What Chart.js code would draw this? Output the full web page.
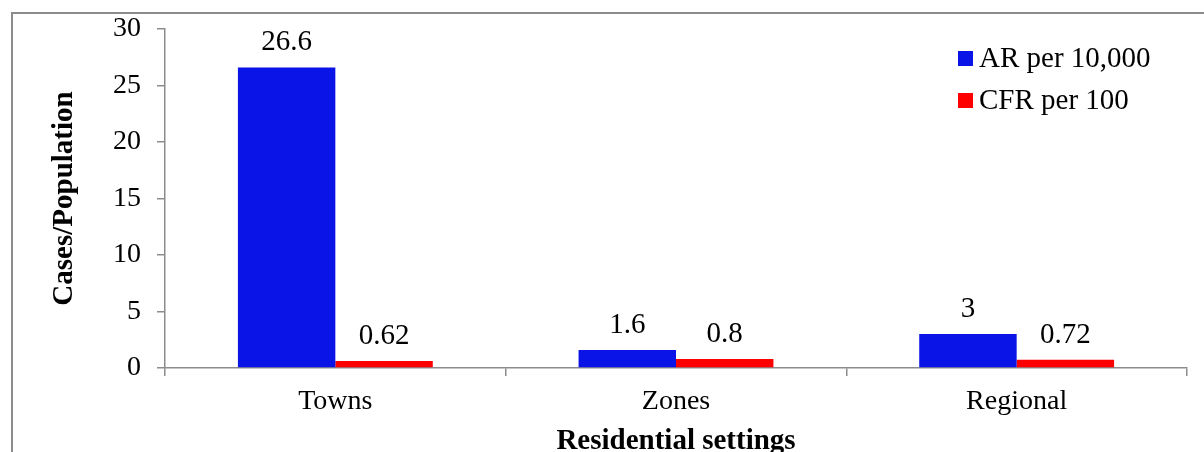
<!DOCTYPE html>
<html>
<head>
<meta charset="utf-8">
<title>Residential settings</title>
<script src="https://cdn.jsdelivr.net/npm/chart.js@4/dist/chart.umd.min.js"></script>
<style>
    html, body { margin: 0; padding: 0; background: #fff; overflow: hidden; }
    canvas { display: block; }
</style>
</head>
<body>
<canvas id="ratesChart" width="1204" height="452"></canvas>
<script>
// Data
const categories = ['Towns', 'Zones', 'Regional'];
const seriesNames = ['AR per 10,000', 'CFR per 100'];
const arValues = [26.6, 1.6, 3];
const cfrValues = [0.62, 0.8, 0.72];
const yMin = 0;
const yMax = 30;
const yStep = 5;

const serif = "'Times New Roman', 'Liberation Serif', serif";
const axisGrey = '#8c8c8c';

// Outer frame (cropped on the right and bottom like the original)
const framePlugin = {
    id: 'frame',
    beforeDraw(chart) {
        const ctx = chart.ctx;
        ctx.save();
        ctx.fillStyle = '#fff';
        ctx.fillRect(0, 0, chart.width, chart.height);
        ctx.strokeStyle = axisGrey;
        ctx.lineWidth = 2;
        ctx.strokeRect(12, 13, chart.width + 50, chart.height + 50);
        ctx.restore();
    }
};

// Value labels above each bar
const valueLabels = {
    id: 'valueLabels',
    afterDatasetsDraw(chart) {
        const ctx = chart.ctx;
        ctx.save();
        ctx.font = '29px ' + serif;
        ctx.fillStyle = '#000';
        ctx.textAlign = 'center';
        ctx.textBaseline = 'alphabetic';
        chart.data.datasets.forEach((ds, i) => {
            chart.getDatasetMeta(i).data.forEach((bar, j) => {
                ctx.fillText(String(ds.data[j]), bar.x, bar.y - 17);
            });
        });
        ctx.restore();
    }
};

// Legend stacked in the top right corner of the plot
const cornerLegend = {
    id: 'cornerLegend',
    afterDraw(chart) {
        const ctx = chart.ctx;
        const x = 958;
        let y = 58;
        ctx.save();
        ctx.font = '29px ' + serif;
        ctx.textBaseline = 'middle';
        ctx.textAlign = 'left';
        chart.data.datasets.forEach(ds => {
            ctx.fillStyle = ds.backgroundColor;
            ctx.fillRect(x, y - 7, 15, 15);
            ctx.fillStyle = '#000';
            ctx.fillText(ds.label, x + 21, y + 1);
            y += 42;
        });
        ctx.restore();
    }
};

new Chart(document.getElementById('ratesChart'), {
    type: 'bar',
    data: {
        labels: categories,
        datasets: [{
            label: seriesNames[0],
            data: arValues,
            backgroundColor: '#0a14e6',
            borderWidth: 0
        }, {
            label: seriesNames[1],
            data: cfrValues,
            backgroundColor: '#ff0000',
            borderWidth: 0
        }]
    },
    options: {
        responsive: false,
        animation: false,
        layout: {
            padding: { left: 14, right: 17, top: 29, bottom: 0 }
        },
        datasets: {
            bar: {
                categoryPercentage: 0.572,
                barPercentage: 1
            }
        },
        plugins: {
            legend: { display: false },
            tooltip: { enabled: false }
        },
        scales: {
            x: {
                afterFit(scale) { scale.height = 84; },
                border: { display: true, color: axisGrey, width: 1.5 },
                grid: {
                    offset: true,
                    drawOnChartArea: false,
                    drawTicks: true,
                    tickLength: 8,
                    color: axisGrey,
                    lineWidth: 1.5
                },
                ticks: {
                    color: '#000',
                    padding: 9,
                    font: { family: serif, size: 28 }
                },
                title: {
                    display: true,
                    text: 'Residential settings',
                    color: '#000',
                    padding: { top: 0, bottom: 0 },
                    font: { family: serif, size: 29, weight: 'bold', lineHeight: '20px' }
                }
            },
            y: {
                min: yMin,
                max: yMax,
                afterFit(scale) {
                    scale.width = 151;
                    // let the layout padding decide where the plot starts
                    scale.paddingTop = 0;
                    scale.paddingBottom = 0;
                },
                border: { display: true, color: axisGrey, width: 1.5 },
                grid: {
                    drawOnChartArea: false,
                    drawTicks: true,
                    tickLength: 8,
                    color: axisGrey,
                    lineWidth: 1.5
                },
                ticks: {
                    stepSize: yStep,
                    color: '#000',
                    padding: 16,
                    font: { family: serif, size: 28 }
                },
                title: {
                    display: true,
                    text: 'Cases/Population',
                    color: '#000',
                    padding: { top: 33, bottom: 0 },
                    font: { family: serif, size: 29, weight: 'bold' }
                }
            }
        }
    },
    plugins: [framePlugin, valueLabels, cornerLegend]
});
</script>
</body>
</html>
